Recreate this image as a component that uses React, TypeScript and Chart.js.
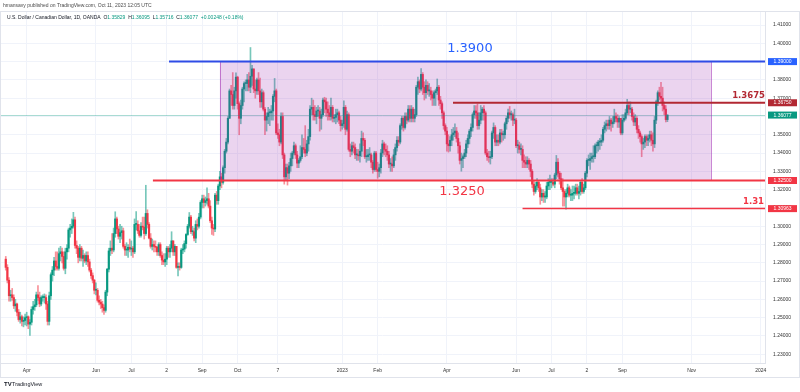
import React, { useEffect, useRef } from "react";
import { Chart, registerables } from "chart.js";

Chart.register(...registerables);

// ---------- DATA (daily USD/CAD, OANDA) ----------
// each entry: [high, low, close]; open = previous close
const firstOpen = 1.282;

const mar22: number[][] = [
  [1.2835, 1.276, 1.2775], [1.279, 1.269, 1.2705], [1.272, 1.259, 1.262], [1.265, 1.259, 1.2625],
  [1.266, 1.2595, 1.261], [1.2625, 1.255, 1.2565], [1.26, 1.2535, 1.2575], [1.258, 1.251, 1.253],
  [1.2545, 1.248, 1.249], [1.253, 1.247, 1.2505], [1.2515, 1.2455, 1.248], [1.2505, 1.245, 1.2485],
  [1.252, 1.246, 1.25],
];
const apr22: number[][] = [
  [1.253, 1.2455, 1.2505], [1.251, 1.244, 1.2465], [1.249, 1.2403, 1.2475], [1.256, 1.246, 1.2545],
  [1.259, 1.252, 1.256], [1.26, 1.254, 1.257], [1.264, 1.256, 1.2625], [1.2675, 1.2595, 1.261],
  [1.264, 1.256, 1.2575], [1.262, 1.2565, 1.261], [1.2625, 1.259, 1.261], [1.263, 1.258, 1.261],
  [1.2625, 1.2545, 1.2575], [1.259, 1.246, 1.248], [1.264, 1.246, 1.262], [1.2745, 1.26, 1.2735],
  [1.278, 1.27, 1.276], [1.283, 1.273, 1.281], [1.286, 1.276, 1.278], [1.286, 1.276, 1.277],
  [1.288, 1.276, 1.285],
];
const may22: number[][] = [
  [1.289, 1.281, 1.286], [1.288, 1.28, 1.2835], [1.286, 1.276, 1.277], [1.288, 1.274, 1.286],
  [1.29, 1.282, 1.288], [1.299, 1.286, 1.298], [1.301, 1.294, 1.299], [1.304, 1.296, 1.3],
  [1.3076, 1.299, 1.3035], [1.305, 1.288, 1.2895], [1.292, 1.285, 1.288], [1.289, 1.28, 1.283],
  [1.29, 1.281, 1.288], [1.289, 1.281, 1.2825], [1.287, 1.278, 1.284], [1.285, 1.28, 1.281],
  [1.286, 1.279, 1.284], [1.286, 1.278, 1.2805], [1.282, 1.275, 1.276], [1.277, 1.2715, 1.273],
  [1.2745, 1.269, 1.2705], [1.271, 1.263, 1.265],
];
const jun22: number[][] = [
  [1.269, 1.2625, 1.265], [1.266, 1.2585, 1.2595], [1.262, 1.257, 1.2585], [1.26, 1.255, 1.2575],
  [1.259, 1.253, 1.2555], [1.257, 1.2518, 1.254], [1.265, 1.253, 1.264], [1.277, 1.262, 1.2765],
  [1.288, 1.275, 1.2865], [1.292, 1.284, 1.288], [1.296, 1.285, 1.287], [1.299, 1.286, 1.296],
  [1.3079, 1.294, 1.304], [1.305, 1.296, 1.2985], [1.3, 1.293, 1.2945], [1.301, 1.291, 1.2965],
  [1.3, 1.293, 1.2975], [1.299, 1.288, 1.289], [1.29, 1.284, 1.287], [1.291, 1.284, 1.287],
  [1.29, 1.283, 1.2885], [1.293, 1.286, 1.2875],
];
const jul22: number[][] = [
  [1.292, 1.284, 1.288], [1.289, 1.283, 1.286], [1.304, 1.285, 1.301], [1.308, 1.298, 1.301],
  [1.303, 1.296, 1.2975], [1.301, 1.294, 1.295], [1.302, 1.294, 1.3], [1.305, 1.298, 1.2995],
  [1.305, 1.293, 1.296], [1.3224, 1.295, 1.307], [1.309, 1.299, 1.301], [1.302, 1.293, 1.2935],
  [1.296, 1.288, 1.289], [1.293, 1.287, 1.29], [1.292, 1.286, 1.289], [1.292, 1.286, 1.2885],
  [1.289, 1.284, 1.286], [1.291, 1.284, 1.29], [1.291, 1.283, 1.284], [1.286, 1.279, 1.2815],
  [1.285, 1.279, 1.2805],
];
const aug22: number[][] = [
  [1.285, 1.278, 1.282], [1.289, 1.279, 1.288], [1.289, 1.283, 1.286], [1.29, 1.283, 1.288],
  [1.297, 1.286, 1.292], [1.292, 1.284, 1.286], [1.29, 1.284, 1.289], [1.289, 1.277, 1.2775],
  [1.28, 1.2728, 1.278], [1.28, 1.276, 1.2775], [1.288, 1.277, 1.287], [1.29, 1.285, 1.2875],
  [1.292, 1.286, 1.2905], [1.296, 1.288, 1.2955], [1.301, 1.295, 1.3], [1.3075, 1.299, 1.305],
  [1.306, 1.296, 1.297], [1.3, 1.295, 1.297], [1.299, 1.292, 1.2935], [1.303, 1.291, 1.301],
  [1.304, 1.298, 1.3], [1.307, 1.299, 1.305], [1.314, 1.304, 1.313],
];
const sep22: number[][] = [
  [1.317, 1.31, 1.315], [1.317, 1.31, 1.313], [1.316, 1.311, 1.314], [1.321, 1.312, 1.315],
  [1.318, 1.31, 1.311], [1.314, 1.302, 1.303], [1.305, 1.2955, 1.299], [1.301, 1.295, 1.2985],
  [1.318, 1.297, 1.317], [1.319, 1.312, 1.314], [1.323, 1.312, 1.322], [1.33, 1.32, 1.327],
  [1.329, 1.321, 1.324], [1.333, 1.323, 1.332], [1.342, 1.329, 1.341], [1.348, 1.34, 1.346],
  [1.36, 1.345, 1.359], [1.375, 1.359, 1.374], [1.377, 1.366, 1.372], [1.384, 1.364, 1.366],
  [1.376, 1.364, 1.374], [1.3838, 1.37, 1.3815],
];
const oct22: number[][] = [
  [1.382, 1.364, 1.367], [1.368, 1.35, 1.359], [1.369, 1.356, 1.366], [1.376, 1.364, 1.375],
  [1.379, 1.368, 1.378], [1.38, 1.374, 1.378], [1.383, 1.374, 1.38], [1.384, 1.374, 1.376],
  [1.3977, 1.373, 1.382], [1.388, 1.377, 1.386], [1.386, 1.373, 1.375], [1.38, 1.37, 1.374],
  [1.381, 1.372, 1.38], [1.384, 1.372, 1.374], [1.381, 1.365, 1.368], [1.375, 1.365, 1.373],
  [1.374, 1.363, 1.364], [1.365, 1.35, 1.358], [1.362, 1.352, 1.36], [1.365, 1.356, 1.362],
  [1.364, 1.355, 1.362],
];
const nov22: number[][] = [
  [1.366, 1.358, 1.363], [1.372, 1.358, 1.371], [1.3808, 1.368, 1.374], [1.375, 1.35, 1.351],
  [1.356, 1.348, 1.35], [1.353, 1.344, 1.346], [1.362, 1.345, 1.36], [1.362, 1.337, 1.339],
  [1.34, 1.323, 1.327], [1.334, 1.325, 1.332], [1.334, 1.3225, 1.329], [1.335, 1.326, 1.333],
  [1.34, 1.33, 1.337], [1.341, 1.333, 1.34], [1.346, 1.339, 1.344], [1.345, 1.337, 1.339],
  [1.341, 1.332, 1.3345], [1.337, 1.332, 1.336], [1.344, 1.335, 1.338], [1.35, 1.337, 1.343],
  [1.348, 1.34, 1.342], [1.355, 1.338, 1.34],
];
const dec22: number[][] = [
  [1.347, 1.3385, 1.345], [1.353, 1.341, 1.349], [1.366, 1.347, 1.364], [1.37, 1.361, 1.365],
  [1.369, 1.358, 1.361], [1.366, 1.358, 1.36], [1.365, 1.356, 1.363], [1.366, 1.36, 1.363],
  [1.365, 1.352, 1.359], [1.364, 1.353, 1.361], [1.37, 1.36, 1.369], [1.3705, 1.362, 1.368],
  [1.37, 1.36, 1.364], [1.368, 1.358, 1.362], [1.366, 1.358, 1.36], [1.37, 1.358, 1.365],
  [1.366, 1.357, 1.359], [1.361, 1.357, 1.3595], [1.364, 1.356, 1.361], [1.364, 1.357, 1.362],
  [1.363, 1.356, 1.358], [1.36, 1.352, 1.355],
];
const jan23: number[][] = [
  [1.358, 1.353, 1.356], [1.3685, 1.354, 1.365], [1.366, 1.35, 1.353], [1.363, 1.352, 1.361],
  [1.362, 1.341, 1.342], [1.345, 1.338, 1.341], [1.346, 1.339, 1.344], [1.346, 1.34, 1.343],
  [1.345, 1.337, 1.339], [1.342, 1.336, 1.339], [1.342, 1.336, 1.3385], [1.345, 1.335, 1.341],
  [1.352, 1.338, 1.348], [1.351, 1.344, 1.347], [1.348, 1.337, 1.338], [1.342, 1.335, 1.338],
  [1.342, 1.336, 1.339], [1.343, 1.336, 1.339], [1.34, 1.332, 1.335], [1.336, 1.329, 1.331],
  [1.341, 1.33, 1.34], [1.341, 1.33, 1.331],
];
const feb23: number[][] = [
  [1.335, 1.3262, 1.33], [1.334, 1.327, 1.332], [1.342, 1.329, 1.34], [1.347, 1.338, 1.345],
  [1.346, 1.339, 1.342], [1.345, 1.338, 1.341], [1.344, 1.336, 1.339], [1.341, 1.332, 1.334],
  [1.337, 1.33, 1.334], [1.338, 1.33, 1.333], [1.342, 1.332, 1.339], [1.345, 1.336, 1.343],
  [1.349, 1.341, 1.347], [1.349, 1.344, 1.346], [1.356, 1.345, 1.355], [1.36, 1.353, 1.359],
  [1.36, 1.352, 1.354], [1.362, 1.353, 1.36], [1.362, 1.356, 1.358], [1.366, 1.357, 1.364],
];
const mar23: number[][] = [
  [1.366, 1.357, 1.359], [1.366, 1.357, 1.364], [1.365, 1.357, 1.359], [1.364, 1.357, 1.361],
  [1.377, 1.36, 1.376], [1.3815, 1.372, 1.379], [1.38, 1.373, 1.375], [1.3862, 1.374, 1.383],
  [1.384, 1.372, 1.376], [1.379, 1.369, 1.373], [1.38, 1.37, 1.377], [1.379, 1.372, 1.374],
  [1.378, 1.371, 1.374], [1.376, 1.369, 1.372], [1.374, 1.366, 1.37], [1.374, 1.366, 1.373],
  [1.375, 1.366, 1.374], [1.3805, 1.372, 1.376], [1.377, 1.366, 1.369], [1.371, 1.364, 1.367],
  [1.368, 1.359, 1.362], [1.363, 1.353, 1.355], [1.356, 1.35, 1.352],
];
const apr23: number[][] = [
  [1.354, 1.341, 1.345], [1.35, 1.3405, 1.344], [1.349, 1.341, 1.347], [1.353, 1.344, 1.35],
  [1.354, 1.347, 1.351], [1.356, 1.349, 1.352], [1.354, 1.346, 1.348], [1.351, 1.34, 1.344],
  [1.346, 1.334, 1.336], [1.34, 1.3301, 1.337], [1.339, 1.332, 1.338], [1.342, 1.337, 1.34],
  [1.347, 1.338, 1.345], [1.35, 1.343, 1.348], [1.353, 1.345, 1.352], [1.356, 1.349, 1.354],
  [1.362, 1.352, 1.361], [1.366, 1.359, 1.363], [1.366, 1.359, 1.362], [1.3668, 1.353, 1.355],
];
const may23: number[][] = [
  [1.362, 1.353, 1.358], [1.366, 1.356, 1.362], [1.365, 1.358, 1.364], [1.366, 1.358, 1.362],
  [1.363, 1.339, 1.34], [1.342, 1.336, 1.338], [1.341, 1.335, 1.3375], [1.341, 1.334, 1.338],
  [1.352, 1.337, 1.351], [1.3565, 1.348, 1.354], [1.355, 1.344, 1.346], [1.35, 1.344, 1.347],
  [1.35, 1.344, 1.346], [1.353, 1.345, 1.351], [1.353, 1.346, 1.35], [1.352, 1.347, 1.35],
  [1.357, 1.348, 1.356], [1.36, 1.353, 1.359], [1.364, 1.357, 1.362], [1.3655, 1.359, 1.361],
  [1.363, 1.358, 1.361], [1.362, 1.355, 1.358], [1.364, 1.356, 1.358],
];
const jun23: number[][] = [
  [1.359, 1.343, 1.344], [1.347, 1.34, 1.344], [1.346, 1.34, 1.342], [1.345, 1.339, 1.342],
  [1.344, 1.332, 1.336], [1.339, 1.332, 1.335], [1.338, 1.332, 1.334], [1.338, 1.332, 1.336],
  [1.337, 1.331, 1.334], [1.336, 1.327, 1.33], [1.331, 1.321, 1.323], [1.325, 1.317, 1.319],
  [1.324, 1.318, 1.322], [1.326, 1.32, 1.324], [1.325, 1.319, 1.321], [1.323, 1.312, 1.316],
  [1.32, 1.314, 1.318], [1.32, 1.313, 1.316], [1.319, 1.313, 1.316], [1.324, 1.315, 1.322],
  [1.326, 1.32, 1.324], [1.328, 1.32, 1.324],
];
const jul23: number[][] = [
  [1.326, 1.321, 1.324], [1.326, 1.322, 1.323], [1.329, 1.321, 1.328], [1.3387, 1.326, 1.335],
  [1.337, 1.327, 1.329], [1.33, 1.323, 1.326], [1.329, 1.32, 1.321], [1.326, 1.311, 1.319],
  [1.32, 1.311, 1.316], [1.32, 1.3093, 1.318], [1.323, 1.316, 1.321], [1.322, 1.316, 1.317],
  [1.32, 1.314, 1.317], [1.322, 1.314, 1.318], [1.322, 1.315, 1.318], [1.323, 1.317, 1.321],
  [1.323, 1.317, 1.318], [1.322, 1.315, 1.319], [1.325, 1.317, 1.324], [1.326, 1.318, 1.319],
  [1.323, 1.318, 1.321],
];
const aug23: number[][] = [
  [1.33, 1.32, 1.329], [1.337, 1.327, 1.336], [1.339, 1.333, 1.336], [1.34, 1.331, 1.337],
  [1.34, 1.335, 1.338], [1.344, 1.335, 1.338], [1.345, 1.337, 1.344], [1.346, 1.34, 1.344],
  [1.347, 1.341, 1.346], [1.348, 1.342, 1.346], [1.35, 1.344, 1.347], [1.354, 1.346, 1.353],
  [1.357, 1.351, 1.355], [1.358, 1.352, 1.356], [1.358, 1.353, 1.355], [1.36, 1.353, 1.358],
  [1.359, 1.352, 1.356], [1.36, 1.354, 1.357], [1.364, 1.356, 1.36], [1.362, 1.357, 1.359],
  [1.361, 1.354, 1.357], [1.36, 1.354, 1.359], [1.359, 1.35, 1.351],
];
const sep23: number[][] = [
  [1.361, 1.35, 1.358], [1.361, 1.357, 1.359], [1.364, 1.358, 1.362], [1.3694, 1.361, 1.366],
  [1.368, 1.361, 1.364], [1.368, 1.362, 1.364], [1.365, 1.358, 1.36], [1.362, 1.355, 1.357],
  [1.361, 1.355, 1.359], [1.36, 1.351, 1.353], [1.355, 1.348, 1.351], [1.352, 1.346, 1.349],
  [1.35, 1.338, 1.345], [1.348, 1.342, 1.346], [1.35, 1.343, 1.349], [1.35, 1.344, 1.347],
  [1.35, 1.344, 1.348], [1.352, 1.346, 1.35], [1.352, 1.344, 1.347], [1.351, 1.341, 1.345],
  [1.36, 1.343, 1.358],
];
const oct23: number[][] = [
  [1.369, 1.356, 1.368], [1.374, 1.366, 1.373], [1.376, 1.369, 1.371], [1.3786, 1.368, 1.37],
  [1.376, 1.363, 1.366], [1.368, 1.361, 1.364], [1.366, 1.357, 1.35829], [1.36095, 1.35716, 1.36077],
];

const months = [
  mar22, apr22, may22, jun22, jul22, aug22, sep22, oct22, nov22, dec22,
  jan23, feb23, mar23, apr23, may23, jun23, jul23, aug23, sep23, oct23,
];

// time axis (bar index 0 = 15 Mar 2022)
const xTickIndex = [13, 56, 78, 100, 122, 144, 169, 209, 231, 274, 317, 339, 361, 383, 426, 469];
const xTickLabels = ["Apr", "Jun", "Jul", "2", "Sep", "Oct", "7", "2023", "Feb", "Apr", "Jun", "Jul", "2", "Sep", "Nov", "2024"];
const yTickValues = [1.23, 1.24, 1.25, 1.26, 1.27, 1.28, 1.29, 1.3, 1.31, 1.32, 1.33, 1.34, 1.35, 1.36, 1.37, 1.38, 1.39, 1.4, 1.41];

// drawings
const resistanceLevel = 1.39;
const supportLevel = 1.325;
const midLevel = 1.3675;
const lowLevel = 1.30963;
const lastPrice = 1.36077;
const resistanceStart = 101.4;
const supportStart = 91.4;
const midStart = 277.8;
const lowStart = 321;
const boxStart = 133;
const boxEnd = 438;

const UP = "#089981";
const DOWN = "#f23645";
const FONT = "'Liberation Sans', Arial, sans-serif";

type Candle = { i: number; o: number; h: number; l: number; c: number };

function buildCandles(): Candle[] {
  const out: Candle[] = [];
  let prev = firstOpen;
  let i = 0;
  for (const m of months) {
    for (const [h, l, c] of m) {
      const o = prev;
      out.push({ i, o, h: Math.max(h, o, c), l: Math.min(l, o, c), c });
      prev = c;
      i++;
    }
  }
  return out;
}

const overlayPlugin = {
  id: "overlay",
  afterDatasetsDraw(chart: any) {
    const { ctx, chartArea: a, scales } = chart;
    const x = scales.x;
    const y = scales.y;
    ctx.save();
    ctx.beginPath();
    ctx.rect(a.left, a.top, a.right - a.left, a.bottom - a.top);
    ctx.clip();

    // last price line
    const ly = Math.round(y.getPixelForValue(lastPrice)) + 0.5;
    ctx.strokeStyle = "rgba(8,153,129,0.35)";
    ctx.lineWidth = 1;
    ctx.beginPath();
    ctx.moveTo(a.left, ly);
    ctx.lineTo(a.right, ly);
    ctx.stroke();

    // range box
    const bx0 = x.getPixelForValue(boxStart);
    const bx1 = x.getPixelForValue(boxEnd);
    const by0 = y.getPixelForValue(resistanceLevel);
    const by1 = y.getPixelForValue(supportLevel);
    ctx.fillStyle = "rgba(156,39,176,0.2)";
    ctx.fillRect(bx0, by0, bx1 - bx0, by1 - by0);
    ctx.strokeStyle = "rgba(156,39,176,0.55)";
    ctx.lineWidth = 1;
    ctx.strokeRect(Math.round(bx0) + 0.5, by0, Math.round(bx1 - bx0), by1 - by0);

    const hline = (v: number, start: number, color: string, w: number) => {
      const py = y.getPixelForValue(v);
      ctx.strokeStyle = color;
      ctx.lineWidth = w;
      ctx.beginPath();
      ctx.moveTo(x.getPixelForValue(start), py);
      ctx.lineTo(a.right, py);
      ctx.stroke();
    };
    hline(resistanceLevel, resistanceStart, "#2f4ce6", 2);
    hline(supportLevel, supportStart, "#f23645", 2);
    hline(midLevel, midStart, "#b22833", 2);
    hline(lowLevel, lowStart, "#f23645", 1.5);
    ctx.restore();

    // big texts
    ctx.save();
    ctx.textBaseline = "middle";
    ctx.textAlign = "center";
    ctx.font = "13px 'DejaVu Sans', sans-serif";
    ctx.fillStyle = "#2962ff";
    ctx.fillText("1.3900", x.getPixelForValue(288.3), y.getPixelForValue(resistanceLevel) - 12.5);
    ctx.fillStyle = "#f23645";
    ctx.fillText("1.3250", x.getPixelForValue(283.4), y.getPixelForValue(supportLevel) + 11);
    ctx.textAlign = "right";
    ctx.font = "bold 8.5px 'DejaVu Sans', sans-serif";
    ctx.fillStyle = "#b22833";
    ctx.fillText("1.3675", a.right, y.getPixelForValue(midLevel) - 6.5);
    ctx.fillStyle = "#f23645";
    ctx.fillText("1.31", a.right - 1, y.getPixelForValue(lowLevel) - 7);
    ctx.restore();
  },
  afterDraw(chart: any) {
    const { ctx, chartArea: a, scales } = chart;
    const y = scales.y;
    ctx.save();
    // price-scale labels
    const tag = (v: number, text: string, color: string) => {
      const py = y.getPixelForValue(v);
      ctx.fillStyle = color;
      ctx.fillRect(a.right + 3, py - 3.5, 29, 7);
      ctx.fillStyle = "#ffffff";
      ctx.font = `5px ${FONT}`;
      ctx.textAlign = "center";
      ctx.textBaseline = "middle";
      ctx.fillText(text, a.right + 17.5, py + 0.3);
    };
    tag(resistanceLevel, "1.39000", "#2962ff");
    tag(midLevel, "1.36750", "#b22833");
    tag(lastPrice, "1.36077", "#089981");
    tag(supportLevel, "1.32500", "#f23645");
    tag(lowLevel, "1.30963", "#f23645");

    // frame
    ctx.strokeStyle = "#e0e3eb";
    ctx.lineWidth = 1;
    ctx.strokeRect(0.5, 11.5, 799, 366);

    // header
    ctx.textAlign = "left";
    ctx.textBaseline = "middle";
    ctx.font = `5px ${FONT}`;
    ctx.fillStyle = "#4a4a4a";
    ctx.fillText("hmansavy published on TradingView.com, Oct 11, 2023 12:05 UTC", 3, 6);

    let tx = 7;
    const ty = 17.5;
    const parts: [string, string][] = [
      ["U.S. Dollar / Canadian Dollar, 1D, OANDA  O", "#131722"],
      ["1.35829", UP],
      ["  H", "#131722"],
      ["1.36095", UP],
      ["  L", "#131722"],
      ["1.35716", UP],
      ["  C", "#131722"],
      ["1.36077", UP],
      ["  +0.00248 (+0.18%)", UP],
    ];
    for (const [t, col] of parts) {
      ctx.fillStyle = col;
      ctx.fillText(t, tx, ty);
      tx += ctx.measureText(t).width;
    }

    // logo
    ctx.fillStyle = "#131722";
    ctx.font = `bold 6px ${FONT}`;
    ctx.fillText("TV", 4, 384);
    ctx.font = `5.5px ${FONT}`;
    ctx.fillText("TradingView", 12, 384);
    ctx.restore();
  },
};

export default function App() {
  const ref = useRef<HTMLCanvasElement | null>(null);

  useEffect(() => {
    if (!ref.current) return;
    const candles = buildCandles();
    const wickColors = candles.map((k) => (k.c >= k.o ? "rgba(8,153,129,0.55)" : "rgba(242,54,69,0.55)"));
    const bodyColors = candles.map((k) => (k.c >= k.o ? UP : DOWN));

    const chart = new Chart(ref.current, {
      type: "bar",
      data: {
        datasets: [
          {
            label: "wick",
            data: candles.map((k) => ({ x: k.i, y: [k.l, k.h] })) as any,
            backgroundColor: wickColors,
            barThickness: 1,
            grouped: false,
            borderWidth: 0,
          } as any,
          {
            label: "body",
            data: candles.map((k) => ({ x: k.i, y: [k.o, k.c] })) as any,
            backgroundColor: bodyColors,
            barThickness: 1.5,
            minBarLength: 1,
            grouped: false,
            borderWidth: 0,
          } as any,
        ],
      },
      options: {
        animation: false,
        responsive: false,
        maintainAspectRatio: false,
        layout: { padding: { top: 12, bottom: 15, left: 0, right: 0 } },
        plugins: {
          legend: { display: false },
          tooltip: { enabled: false },
          title: { display: false },
        },
        scales: {
          x: {
            type: "linear",
            min: -3.58,
            max: 471.6,
            offset: false,
            grid: { offset: false, color: "#f0f3fa", drawTicks: false },
            border: { color: "#e0e3eb" },
            ticks: {
              autoSkip: false,
              maxRotation: 0,
              padding: 5,
              color: "#333",
              font: { size: 5, family: FONT },
              callback: (v: any) => {
                const k = xTickIndex.indexOf(Number(v));
                return k >= 0 ? xTickLabels[k] : "";
              },
            },
            afterBuildTicks: (s: any) => {
              s.ticks = xTickIndex.map((v) => ({ value: v }));
            },
            afterFit: (s: any) => {
              s.height = 14;
            },
          },
          y: {
            type: "linear",
            position: "right",
            min: 1.22524,
            max: 1.41711,
            beginAtZero: false,
            grid: { color: "#f0f3fa", drawTicks: false },
            border: { color: "#e0e3eb" },
            ticks: {
              autoSkip: false,
              padding: 8,
              color: "#333",
              font: { size: 5, family: FONT },
              callback: (v: any) => Number(v).toFixed(5),
            },
            afterBuildTicks: (s: any) => {
              s.ticks = yTickValues.map((v) => ({ value: v }));
            },
            afterFit: (s: any) => {
              s.width = 35;
            },
          },
        },
      } as any,
      plugins: [overlayPlugin],
    });
    return () => chart.destroy();
  }, []);

  return (
    <div style={{ position: "fixed", left: 0, top: 0, width: 800, height: 392, background: "#fff" }}>
      <canvas ref={ref} width={800} height={392} style={{ width: 800, height: 392, display: "block" }} />
    </div>
  );
}
